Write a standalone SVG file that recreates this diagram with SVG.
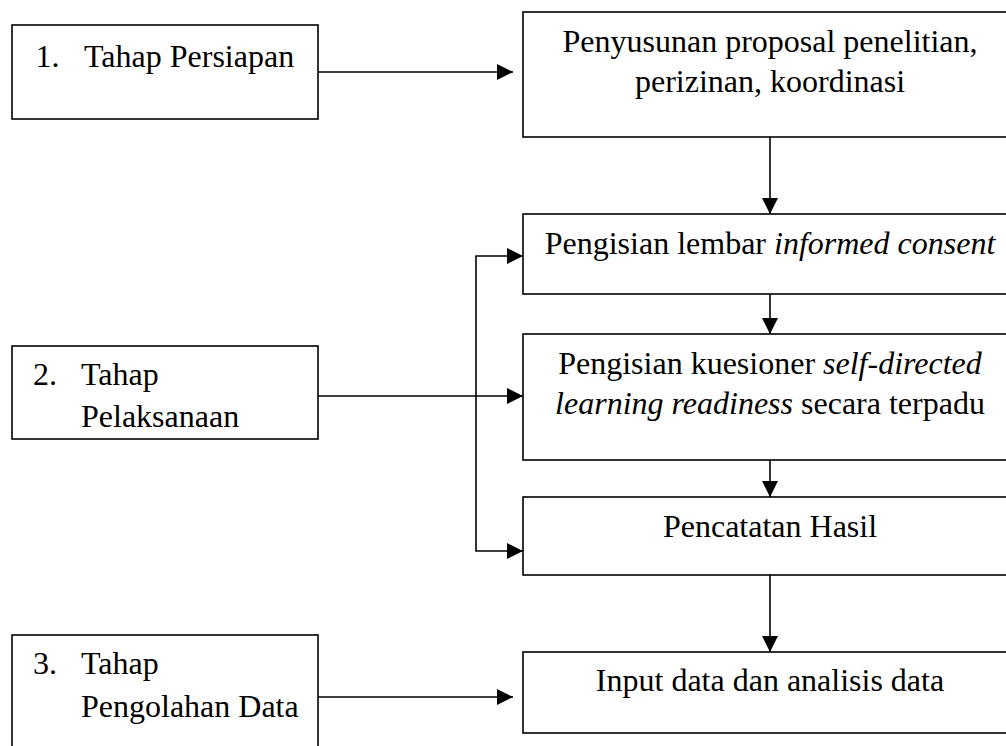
<svg xmlns="http://www.w3.org/2000/svg" width="1006" height="746" viewBox="0 0 1006 746">
<style>
.box{fill:#fff;stroke:#000;stroke-width:1.6}
.t{font-family:"Liberation Serif","Times New Roman",serif;font-size:32px;fill:#000}
.c{text-anchor:middle}
.i{font-style:italic}
.ln{fill:none;stroke:#000;stroke-width:1.6}
</style>
<defs>
<marker id="ah" markerUnits="userSpaceOnUse" markerWidth="16" markerHeight="16" viewBox="0 0 14 14" refX="14" refY="7" orient="auto">
<path d="M0,0 L14,7 L0,14 Z" fill="#000"/>
</marker>
</defs>
<rect width="1006" height="746" fill="#fff"/>
<g id="connectors">
<line class="ln" x1="318" y1="72" x2="513" y2="72" marker-end="url(#ah)"/>
<line class="ln" x1="770" y1="137" x2="770" y2="214" marker-end="url(#ah)"/>
<line class="ln" x1="770" y1="294" x2="770" y2="334" marker-end="url(#ah)"/>
<line class="ln" x1="770" y1="460" x2="770" y2="497" marker-end="url(#ah)"/>
<line class="ln" x1="770" y1="575" x2="770" y2="652" marker-end="url(#ah)"/>
<line class="ln" x1="318" y1="396" x2="523" y2="396" marker-end="url(#ah)"/>
<path class="ln" d="M476,256 L476,551"/>
<line class="ln" x1="475.2" y1="256" x2="523" y2="256" marker-end="url(#ah)"/>
<line class="ln" x1="475.2" y1="551" x2="523" y2="551" marker-end="url(#ah)"/>
<line class="ln" x1="318" y1="697" x2="513" y2="697" marker-end="url(#ah)"/>
</g>
<g id="tahap1">
<rect class="box" x="12" y="25" width="306" height="94"/>
<text class="t" x="35.5" y="67">1.</text>
<text class="t" x="84" y="67">Tahap Persiapan</text>
</g>
<g id="tahap2">
<rect class="box" x="12" y="346" width="306" height="93"/>
<text class="t" x="33" y="385">2.</text>
<text class="t" x="81" y="385">Tahap</text>
<text class="t" x="81" y="427">Pelaksanaan</text>
</g>
<g id="tahap3">
<rect class="box" x="12" y="635" width="306" height="130"/>
<text class="t" x="33" y="674">3.</text>
<text class="t" x="81" y="674">Tahap</text>
<text class="t" x="81" y="717">Pengolahan Data</text>
</g>
<g id="proposal">
<rect class="box" x="523" y="12" width="500" height="125"/>
<text class="t c" x="770" y="52">Penyusunan proposal penelitian,</text>
<text class="t c" x="770" y="92">perizinan, koordinasi</text>
</g>
<g id="consent">
<rect class="box" x="523" y="214" width="500" height="80"/>
<text class="t c" x="770" y="254">Pengisian lembar <tspan class="i">informed consent</tspan></text>
</g>
<g id="kuesioner">
<rect class="box" x="523" y="334" width="500" height="126"/>
<text class="t c" x="770" y="374">Pengisian kuesioner <tspan class="i">self-directed</tspan></text>
<text class="t c" x="770" y="414"><tspan class="i">learning readiness</tspan> secara terpadu</text>
</g>
<g id="pencatatan">
<rect class="box" x="523" y="497" width="500" height="78"/>
<text class="t c" x="770" y="537">Pencatatan Hasil</text>
</g>
<g id="input">
<rect class="box" x="523" y="652" width="500" height="81"/>
<text class="t c" x="770" y="691">Input data dan analisis data</text>
</g>
</svg>
